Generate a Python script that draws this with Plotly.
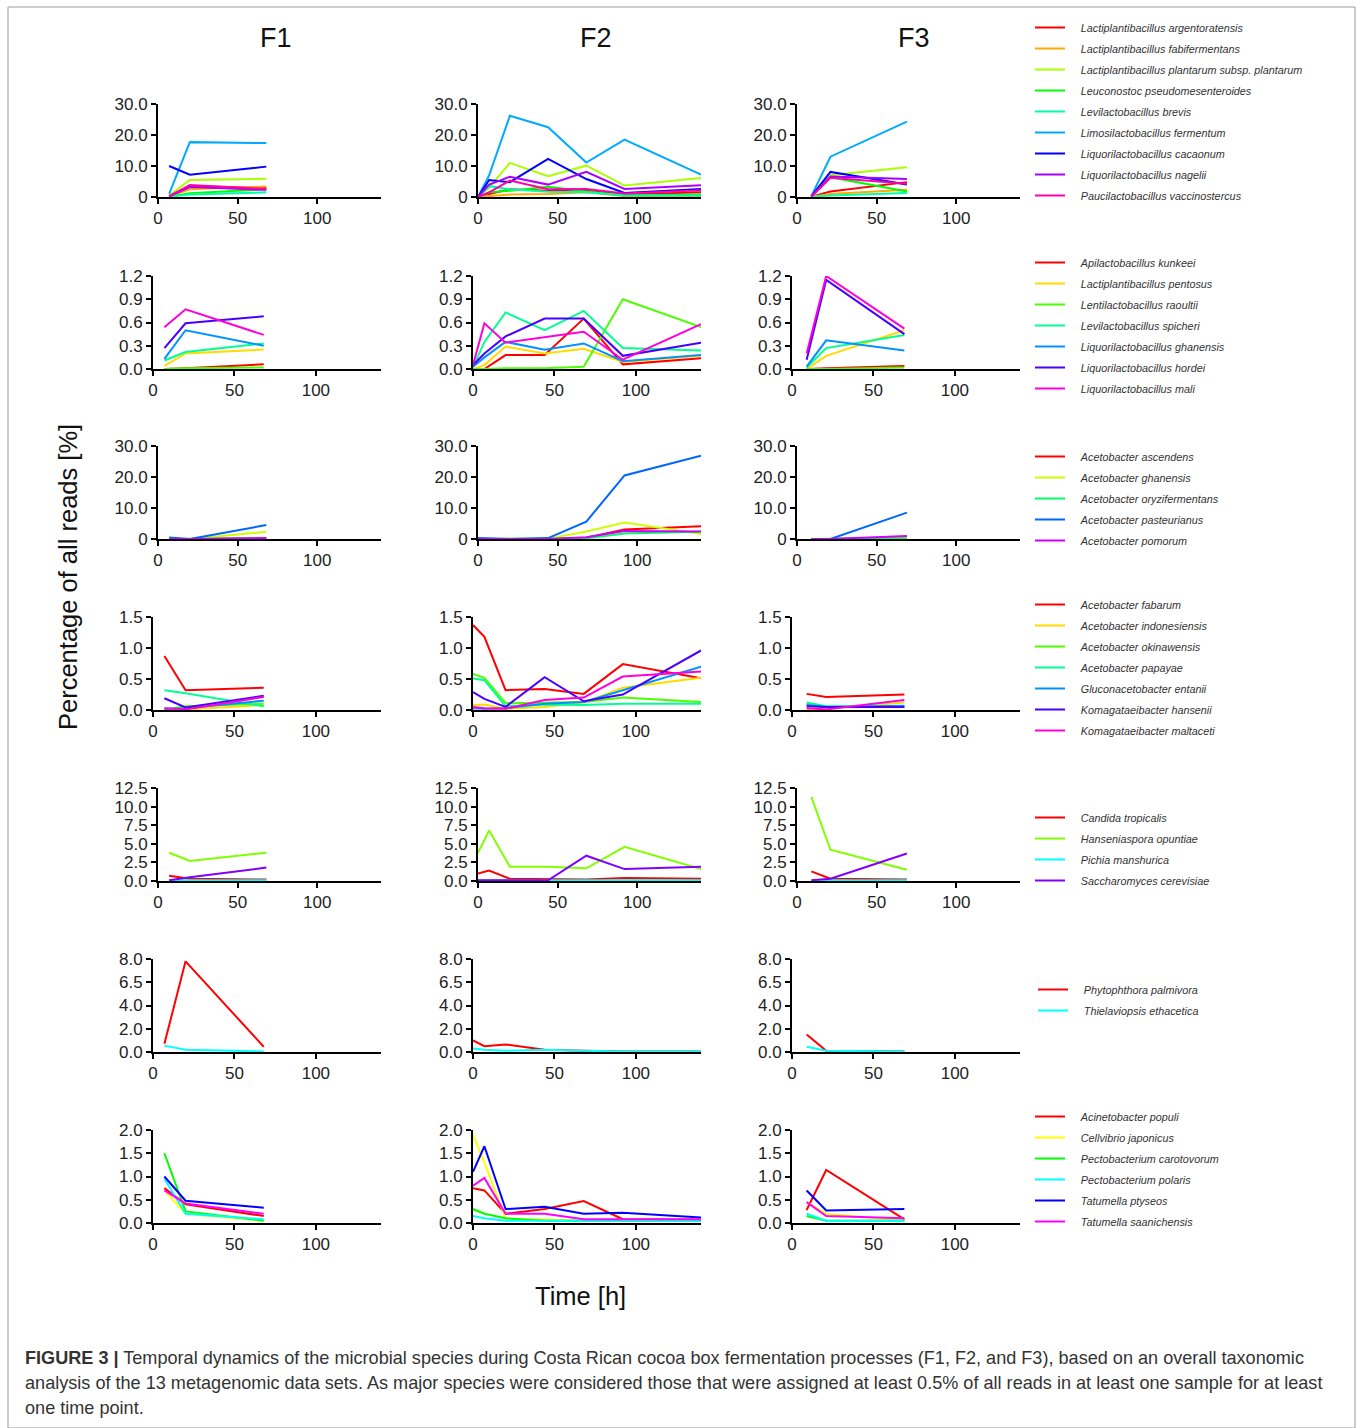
import colorsys
import plotly.graph_objects as go

W, H = 1357, 1428

# ---------------- time points (h) ----------------
t_F1 = [7, 20, 68]
t_F2 = [0, 7, 20, 44, 68, 92, 140]
t_F3 = [9, 21, 69]

# ---------------- group 1: lactic acid bacteria (major) ----------------
lab1_species = [
    "Lactiplantibacillus argentoratensis",
    "Lactiplantibacillus fabifermentans",
    "Lactiplantibacillus plantarum subsp. plantarum",
    "Leuconostoc pseudomesenteroides",
    "Levilactobacillus brevis",
    "Limosilactobacillus fermentum",
    "Liquorilactobacillus cacaonum",
    "Liquorilactobacillus nagelii",
    "Paucilactobacillus vaccinostercus",
]
lab1_F1 = [
    [0.2, 3.5, 3.0],
    [0.2, 2.5, 3.4],
    [0.5, 5.5, 5.9],
    [0.1, 1.2, 2.5],
    [0.1, 0.8, 1.5],
    [1.0, 17.7, 17.4],
    [10.0, 7.2, 9.8],
    [0.2, 3.2, 2.3],
    [0.3, 3.9, 2.6],
]
lab1_F2 = [
    [0.0, 1.0, 2.5, 2.0, 2.0, 0.8, 1.5],
    [0.0, 0.3, 0.8, 1.0, 1.5, 0.3, 0.3],
    [0.0, 3.0, 11.0, 6.7, 10.1, 3.7, 6.1],
    [0.0, 1.5, 2.0, 3.3, 1.8, 0.5, 0.8],
    [0.0, 3.5, 2.5, 1.7, 1.5, 0.6, 0.5],
    [0.0, 7.0, 26.2, 22.5, 11.1, 18.5, 7.2],
    [0.0, 5.5, 4.8, 12.3, 5.8, 1.3, 2.6],
    [0.0, 4.0, 6.5, 4.0, 8.1, 2.6, 3.8],
    [0.0, 1.5, 5.3, 2.5, 2.6, 1.1, 2.2],
]
lab1_F3 = [
    [0.1, 1.8, 4.8],
    [0.1, 1.0, 2.3],
    [0.2, 7.0, 9.6],
    [0.1, 6.4, 1.8],
    [0.1, 0.5, 1.3],
    [0.3, 13.0, 24.3],
    [0.2, 8.1, 4.0],
    [0.2, 6.6, 5.8],
    [0.1, 6.2, 4.3],
]

# ---------------- group 2: lactic acid bacteria (minor) ----------------
lab2_species = [
    "Apilactobacillus kunkeei",
    "Lactiplantibacillus pentosus",
    "Lentilactobacillus raoultii",
    "Levilactobacillus spicheri",
    "Liquorilactobacillus ghanensis",
    "Liquorilactobacillus hordei",
    "Liquorilactobacillus mali",
]
lab2_F1 = [
    [0.00, 0.01, 0.06],
    [0.04, 0.20, 0.25],
    [0.00, 0.01, 0.02],
    [0.11, 0.22, 0.33],
    [0.13, 0.50, 0.30],
    [0.27, 0.59, 0.68],
    [0.54, 0.77, 0.44],
]
lab2_F2 = [
    [0.00, 0.00, 0.18, 0.18, 0.65, 0.06, 0.14],
    [0.00, 0.05, 0.29, 0.20, 0.26, 0.09, 0.17],
    [0.00, 0.00, 0.01, 0.01, 0.03, 0.90, 0.54],
    [0.02, 0.35, 0.73, 0.50, 0.75, 0.27, 0.24],
    [0.03, 0.15, 0.35, 0.25, 0.33, 0.10, 0.18],
    [0.05, 0.20, 0.42, 0.65, 0.65, 0.17, 0.34],
    [0.05, 0.59, 0.34, 0.41, 0.48, 0.12, 0.58],
]
lab2_F3 = [
    [0.00, 0.01, 0.04],
    [0.00, 0.17, 0.50],
    [0.00, 0.00, 0.02],
    [0.02, 0.27, 0.44],
    [0.03, 0.37, 0.24],
    [0.12, 1.15, 0.45],
    [0.20, 1.20, 0.52],
]

# ---------------- group 3: acetic acid bacteria (major) ----------------
aab1_species = [
    "Acetobacter ascendens",
    "Acetobacter ghanensis",
    "Acetobacter oryzifermentans",
    "Acetobacter pasteurianus",
    "Acetobacter pomorum",
]
aab1_F1 = [
    [0.0, 0.0, 0.3],
    [0.0, 0.0, 2.3],
    [0.0, 0.0, 0.2],
    [0.5, 0.0, 4.5],
    [0.0, 0.0, 0.3],
]
aab1_F2 = [
    [0.0, 0.0, 0.0, 0.0, 0.4, 3.1, 4.1],
    [0.0, 0.0, 0.0, 0.1, 2.4, 5.3, 1.6],
    [0.0, 0.0, 0.0, 0.0, 0.2, 1.8, 2.3],
    [0.3, 0.2, 0.0, 0.3, 5.6, 20.5, 26.9],
    [0.0, 0.0, 0.0, 0.0, 0.6, 2.6, 2.4],
]
aab1_F3 = [
    [0.0, 0.0, 0.5],
    [0.0, 0.0, 0.3],
    [0.0, 0.0, 0.2],
    [0.0, 0.0, 8.5],
    [0.0, 0.0, 1.0],
]

# ---------------- group 4: acetic acid bacteria (minor) ----------------
aab2_species = [
    "Acetobacter fabarum",
    "Acetobacter indonesiensis",
    "Acetobacter okinawensis",
    "Acetobacter papayae",
    "Gluconacetobacter entanii",
    "Komagataeibacter hansenii",
    "Komagataeibacter maltaceti",
]
aab2_F1 = [
    [0.87, 0.32, 0.36],
    [0.00, 0.01, 0.08],
    [0.01, 0.06, 0.10],
    [0.32, 0.27, 0.06],
    [0.02, 0.03, 0.15],
    [0.19, 0.04, 0.23],
    [0.03, 0.01, 0.21],
]
aab2_F2 = [
    [1.37, 1.18, 0.32, 0.34, 0.26, 0.74, 0.51],
    [0.08, 0.09, 0.02, 0.05, 0.12, 0.36, 0.52],
    [0.58, 0.52, 0.11, 0.12, 0.13, 0.20, 0.13],
    [0.51, 0.48, 0.06, 0.09, 0.08, 0.10, 0.10],
    [0.03, 0.02, 0.03, 0.10, 0.13, 0.32, 0.70],
    [0.29, 0.18, 0.05, 0.53, 0.14, 0.25, 0.96],
    [0.05, 0.03, 0.02, 0.16, 0.20, 0.54, 0.62],
]
aab2_F3 = [
    [0.26, 0.21, 0.25],
    [0.02, 0.02, 0.12],
    [0.10, 0.05, 0.05],
    [0.12, 0.06, 0.06],
    [0.08, 0.05, 0.07],
    [0.06, 0.05, 0.05],
    [0.03, 0.01, 0.16],
]

# ---------------- group 5: yeasts ----------------
yeast_species = [
    "Candida tropicalis",
    "Hanseniaspora opuntiae",
    "Pichia manshurica",
    "Saccharomyces cerevisiae",
]
yeast_F1 = [
    [0.7, 0.3, 0.2],
    [3.8, 2.7, 3.8],
    [0.05, 0.1, 0.1],
    [0.1, 0.5, 1.8],
]
yeast_F2 = [
    [1.0, 1.4, 0.3, 0.2, 0.2, 0.4, 0.3],
    [3.8, 6.8, 1.9, 1.9, 1.7, 4.6, 1.6],
    [0.1, 0.1, 0.1, 0.1, 0.1, 0.1, 0.1],
    [0.1, 0.1, 0.2, 0.1, 3.4, 1.6, 1.9],
]
yeast_F3 = [
    [1.3, 0.3, 0.2],
    [11.3, 4.2, 1.5],
    [0.05, 0.1, 0.1],
    [0.1, 0.3, 3.7],
]

# ---------------- group 6: filamentous fungi / oomycetes ----------------
fungi_species = [
    "Phytophthora palmivora",
    "Thielaviopsis ethacetica",
]
fungi_F1 = [
    [0.7, 7.8, 0.45],
    [0.55, 0.2, 0.05],
]
fungi_F2 = [
    [1.0, 0.5, 0.65, 0.2, 0.1, 0.05, 0.05],
    [0.3, 0.2, 0.1, 0.2, 0.1, 0.05, 0.05],
]
fungi_F3 = [
    [1.5, 0.1, 0.05],
    [0.45, 0.1, 0.05],
]

# ---------------- group 7: enterobacteria and others ----------------
ent_species = [
    "Acinetobacter populi",
    "Cellvibrio japonicus",
    "Pectobacterium carotovorum",
    "Pectobacterium polaris",
    "Tatumella ptyseos",
    "Tatumella saanichensis",
]
ent_F1 = [
    [0.75, 0.40, 0.15],
    [0.70, 0.20, 0.05],
    [1.50, 0.25, 0.05],
    [0.95, 0.20, 0.08],
    [1.00, 0.48, 0.33],
    [0.70, 0.42, 0.20],
]
ent_F2 = [
    [0.75, 0.70, 0.20, 0.30, 0.47, 0.08, 0.07],
    [1.90, 1.30, 0.10, 0.07, 0.05, 0.05, 0.05],
    [0.30, 0.20, 0.10, 0.05, 0.05, 0.05, 0.05],
    [0.15, 0.10, 0.05, 0.05, 0.05, 0.05, 0.05],
    [1.10, 1.65, 0.30, 0.35, 0.20, 0.22, 0.12],
    [0.80, 0.97, 0.20, 0.20, 0.08, 0.08, 0.08],
]
ent_F3 = [
    [0.28, 1.14, 0.08],
    [0.45, 0.20, 0.05],
    [0.15, 0.05, 0.05],
    [0.20, 0.05, 0.05],
    [0.70, 0.27, 0.30],
    [0.45, 0.15, 0.10],
]

# ---------------- axis tick labels ----------------
row_tickvals = [
    [0, 10, 20, 30],
    [0, 0.3, 0.6, 0.9, 1.2],
    [0, 10, 20, 30],
    [0, 0.5, 1.0, 1.5],
    [0, 2.5, 5, 7.5, 10, 12.5],
    [0, 2, 4, 6, 8],
    [0, 0.5, 1.0, 1.5, 2.0],
]
row_ticktext = [
    ["0", "10.0", "20.0", "30.0"],
    ["0.0", "0.3", "0.6", "0.9", "1.2"],
    ["0", "10.0", "20.0", "30.0"],
    ["0.0", "0.5", "1.0", "1.5"],
    ["0.0", "2.5", "5.0", "7.5", "10.0", "12.5"],
    ["0.0", "2.0", "4.0", "6.5", "8.0"],
    ["0.0", "0.5", "1.0", "1.5", "2.0"],
]
x_tickvals = [0, 50, 100]
fermentations = ["F1", "F2", "F3"]

groups = [
    (lab1_species, [lab1_F1, lab1_F2, lab1_F3]),
    (lab2_species, [lab2_F1, lab2_F2, lab2_F3]),
    (aab1_species, [aab1_F1, aab1_F2, aab1_F3]),
    (aab2_species, [aab2_F1, aab2_F2, aab2_F3]),
    (yeast_species, [yeast_F1, yeast_F2, yeast_F3]),
    (fungi_species, [fungi_F1, fungi_F2, fungi_F3]),
    (ent_species, [ent_F1, ent_F2, ent_F3]),
]
times = [t_F1, t_F2, t_F3]

# ---------------- layout geometry (pixels) ----------------
row_top = [104, 276, 446, 617, 788, 959, 1130]
panel_h = 93
row_left = [158, 153, 158, 153, 158, 153, 153]
panel_right = 381
col_off = [0, 320, 639]
legend_first_center = [28, 263, 457, 605, 818, 990, 1117]
legend_left = [1030, 1030, 1030, 1030, 1030, 1033, 1030]

FONT = "Liberation Sans, Arial, sans-serif"
LEGEND_PAD = "\u2002\u2002"  # gap between legend line and label


def hue_colors(n):
    out = []
    for i in range(n):
        r, g, b = colorsys.hsv_to_rgb(i / n, 1.0, 1.0)
        out.append("rgb(%d,%d,%d)" % (round(r * 255), round(g * 255), round(b * 255)))
    return out


fig = go.Figure()
layout = dict(
    template="none",
    width=W, height=H, autosize=False,
    margin=dict(l=0, r=0, t=0, b=0, pad=0, autoexpand=False),
    paper_bgcolor="white", plot_bgcolor="white",
    font=dict(family=FONT, color="#222222"),
    showlegend=True,
)

annotations = []
shapes = []

for r, (species, data) in enumerate(groups):
    colors = hue_colors(len(species))
    legend_name = "legend" if r == 0 else "legend%d" % (r + 1)
    for c in range(3):
        idx = r * 3 + c + 1
        xa = "xaxis" if idx == 1 else "xaxis%d" % idx
        ya = "yaxis" if idx == 1 else "yaxis%d" % idx
        xr = "x" if idx == 1 else "x%d" % idx
        yr = "y" if idx == 1 else "y%d" % idx
        x0 = (row_left[r] + col_off[c]) / W
        x1 = (panel_right + col_off[c]) / W
        y1 = 1 - row_top[r] / H
        y0 = 1 - (row_top[r] + panel_h) / H
        ymax = row_tickvals[r][-1]
        layout[xa] = dict(
            domain=[x0, x1], range=[0, 140], anchor=yr,
            tickvals=x_tickvals, ticktext=[str(v) for v in x_tickvals],
            showline=True, linecolor="black", linewidth=2,
            ticks="outside", ticklen=5, tickwidth=2, tickcolor="black",
            showgrid=False, zeroline=False, layer="below traces",
            automargin=False,
            tickfont=dict(size=17, family=FONT, color="#222222"),
            fixedrange=True,
        )
        layout[ya] = dict(
            domain=[y0, y1], range=[0, ymax], anchor=xr,
            tickvals=row_tickvals[r], ticktext=row_ticktext[r],
            showline=True, linecolor="black", linewidth=2,
            ticks="outside", ticklen=5, tickwidth=2, tickcolor="black",
            showgrid=False, zeroline=False, layer="below traces",
            automargin=False,
            tickfont=dict(size=17, family=FONT, color="#222222"),
            fixedrange=True,
        )
        for s, name in enumerate(species):
            fig.add_trace(go.Scatter(
                x=times[c], y=data[c][s], mode="lines",
                line=dict(color=colors[s], width=2),
                name=LEGEND_PAD + name, legendgroup="g%d_%d" % (r, s),
                showlegend=(c == 0), legend=legend_name,
                xaxis=xr, yaxis=yr,
                hovertemplate=name + "<br>%{x} h: %{y}%<extra>" + fermentations[c] + "</extra>",
            ))
    layout[legend_name] = dict(
        x=legend_left[r] / W, y=1 - (legend_first_center[r] - 15) / H,
        xanchor="left", yanchor="top",
        font=dict(size=10.8, family=FONT, color="#333333", style="italic"),
        bgcolor="rgba(0,0,0,0)", borderwidth=0,
        tracegroupgap=2, itemwidth=30, itemclick=False, itemdoubleclick=False,
    )

# column titles
for c, name in enumerate(fermentations):
    annotations.append(dict(
        text=name, x=(276 + col_off[c] - (1 if c == 2 else 0)) / W, y=1 - 38 / H,
        xref="paper", yref="paper", xanchor="center", yanchor="middle",
        showarrow=False, font=dict(size=27, family=FONT, color="#111111"),
    ))

# axis titles
annotations.append(dict(
    text="Percentage of all reads [%]", x=68 / W, y=1 - 577 / H,
    xref="paper", yref="paper", xanchor="center", yanchor="middle",
    textangle=-90, showarrow=False, font=dict(size=25.5, family=FONT, color="#111111"),
))
annotations.append(dict(
    text="Time [h]", x=580 / W, y=1 - 1296 / H,
    xref="paper", yref="paper", xanchor="center", yanchor="middle",
    showarrow=False, font=dict(size=25.5, family=FONT, color="#111111"),
))

# caption
caption_lines = [
    "<b>FIGURE 3 |</b> Temporal dynamics of the microbial species during Costa Rican cocoa box fermentation processes (F1, F2, and F3), based on an overall taxonomic",
    "analysis of the 13 metagenomic data sets. As major species were considered those that were assigned at least 0.5% of all reads in at least one sample for at least",
    "one time point.",
]
for i, line in enumerate(caption_lines):
    annotations.append(dict(
        text=line, x=23 / W, y=1 - (1358 + 25 * i) / H,
        xref="paper", yref="paper", xanchor="left", yanchor="middle",
        showarrow=False, align="left",
        font=dict(size=18.1, family=FONT, color="#333333"),
    ))

# outer frame
shapes.append(dict(
    type="rect", xref="paper", yref="paper",
    x0=8 / W, x1=1355 / W, y0=0, y1=1 - 7 / H,
    line=dict(color="#9a9a9a", width=1), fillcolor="rgba(0,0,0,0)", layer="below",
))

layout["annotations"] = annotations
layout["shapes"] = shapes
fig.update_layout(**layout)
fig.write_html(
    "out.html",
    config={"displayModeBar": False},
    post_script="document.body.style.margin='0';document.body.style.overflow='hidden';",
)
